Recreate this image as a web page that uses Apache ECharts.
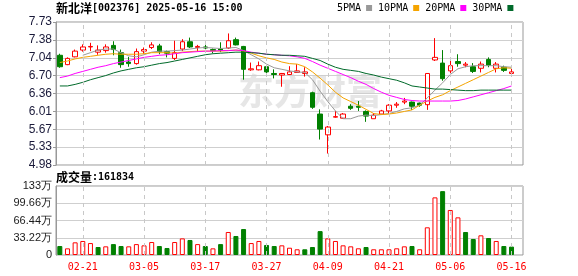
<!DOCTYPE html>
<html><head><meta charset="utf-8">
<script src="https://cdn.jsdelivr.net/npm/echarts@6/dist/echarts.min.js"></script>
<style>html,body{margin:0;padding:0;background:#fff}#c{width:578px;height:276px}</style>
</head><body><div id="c"></div>
<script>
const stockName = '新北洋';
const stockCode = '002376';
const stamp = '2025-05-16 15:00';
const dates = ['02-18','02-19','02-20','02-21','02-24','02-25','02-26','02-27','02-28','03-03',
 '03-04','03-05','03-06','03-07','03-10','03-11','03-12','03-13','03-14','03-17',
 '03-18','03-19','03-20','03-21','03-24','03-25','03-26','03-27','03-28','03-31',
 '04-01','04-02','04-03','04-07','04-08','04-09','04-10','04-11','04-14','04-15',
 '04-16','04-17','04-18','04-21','04-22','04-23','04-24','04-25','04-28','04-29',
 '04-30','05-06','05-07','05-08','05-09','05-12','05-13','05-14','05-15','05-16'];
const labelDates = ['02-21','03-05','03-17','03-27','04-09','04-21','05-06','05-16'];
const opens = [7.09,6.91,7.06,7.19,7.25,7.15,7.18,7.28,7.14,6.96,
 6.93,7.17,7.24,7.27,7.16,7.03,7.21,7.35,7.24,7.25,
 7.20,7.21,7.23,7.39,7.26,6.81,6.81,6.87,6.74,6.71,
 6.72,6.76,6.74,6.37,5.96,5.56,5.90,5.88,6.11,6.11,
 6.01,5.87,5.96,6.02,6.13,6.19,6.19,6.17,6.14,7.00,
 6.94,6.79,6.97,6.90,6.87,6.84,7.01,6.84,6.86,6.74];
const closes = [6.87,7.03,7.17,7.25,7.26,7.19,7.25,7.20,6.91,6.93,
 7.16,7.20,7.29,7.16,7.13,7.14,7.35,7.25,7.26,7.23,
 7.18,7.19,7.37,7.29,6.82,6.83,6.89,6.77,6.72,6.74,
 6.77,6.79,6.77,6.09,5.67,5.71,5.91,5.96,6.07,6.09,
 5.92,5.94,6.02,6.13,6.15,6.21,6.11,6.13,6.74,7.05,
 6.64,6.89,6.93,6.92,6.78,6.92,6.90,6.92,6.80,6.77];
const lows = [6.85,6.90,7.05,7.16,7.17,7.10,7.14,7.09,6.85,6.87,
 6.91,7.12,7.21,7.11,7.05,7.00,7.17,7.23,7.16,7.14,
 7.13,7.15,7.21,7.28,6.62,6.79,6.80,6.73,6.645,6.485,
 6.71,6.75,6.68,6.06,5.47,5.20,5.89,5.87,6.04,6.02,
 5.81,5.87,5.95,5.98,6.08,6.15,6.04,6.10,6.04,6.98,
 6.60,6.68,6.87,6.86,6.75,6.76,6.86,6.76,6.77,6.71];
const highs = [7.12,7.05,7.20,7.30,7.33,7.28,7.30,7.36,7.20,7.06,
 7.22,7.24,7.34,7.31,7.18,7.37,7.40,7.43,7.29,7.30,
 7.22,7.34,7.51,7.43,7.27,6.95,6.97,6.89,6.82,6.75,
 6.88,6.92,6.86,6.39,6.05,5.73,6.02,5.98,6.15,6.21,
 6.03,5.98,6.04,6.15,6.19,6.27,6.20,6.18,6.74,7.42,
 7.19,7.00,7.11,6.96,6.94,6.97,7.05,6.96,6.89,6.83];
const ma5 = ['-','-','-',7.09,7.14,7.19,7.21,7.21,7.14,7.08,
 7.06,7.10,7.15,7.17,7.17,7.18,7.19,7.21,7.23,7.24,
 7.23,7.22,7.23,7.24,7.18,7.10,7.02,6.92,6.85,6.82,
 6.79,6.77,6.76,6.62,6.40,6.20,6.02,5.87,5.87,5.92,
 5.94,5.93,5.95,5.97,6.01,6.06,6.08,6.13,6.27,6.42,
 6.56,6.72,6.83,6.87,6.89,6.89,6.89,6.89,6.87,6.86];
const ma10 = [6.95,6.98,7.02,7.05,7.07,7.09,7.11,7.12,7.11,7.11,
 7.11,7.12,7.14,7.14,7.14,7.13,7.15,7.16,7.17,7.17,
 7.17,7.17,7.18,7.19,7.17,7.13,7.08,7.04,7.01,6.96,
 6.93,6.92,6.87,6.77,6.65,6.52,6.38,6.27,6.20,6.13,
 6.05,5.97,5.95,5.96,5.98,6.01,6.04,6.13,6.21,6.28,
 6.33,6.41,6.48,6.55,6.62,6.69,6.76,6.83,6.85,6.84];
const ma20 = [6.66,6.69,6.74,6.78,6.82,6.86,6.89,6.93,6.96,6.99,
 7.02,7.05,7.07,7.09,7.10,7.12,7.14,7.15,7.16,7.17,
 7.17,7.18,7.18,7.19,7.18,7.15,7.13,7.11,7.10,7.09,
 7.08,7.06,7.03,6.97,6.90,6.84,6.78,6.72,6.66,6.59,
 6.53,6.45,6.38,6.32,6.28,6.24,6.22,6.21,6.21,6.21,
 6.21,6.21,6.22,6.25,6.29,6.33,6.37,6.41,6.45,6.50];
const ma30 = [6.50,6.50,6.53,6.57,6.62,6.66,6.70,6.75,6.79,6.82,
 6.85,6.87,6.90,6.93,6.95,6.98,7.01,7.04,7.07,7.10,
 7.12,7.13,7.14,7.15,7.15,7.14,7.13,7.11,7.10,7.09,
 7.09,7.08,7.07,7.03,6.99,6.92,6.86,6.82,6.80,6.78,
 6.74,6.71,6.67,6.64,6.61,6.56,6.50,6.48,6.46,6.44,
 6.44,6.43,6.42,6.41,6.41,6.42,6.42,6.42,6.42,6.42];
const volumes = [173000,128000,244000,270000,230000,154000,167000,210000,173000,167000,
 210000,186000,250000,173000,135000,250000,320000,289000,210000,173000,
 128000,210000,443000,366000,500000,230000,270000,193000,173000,186000,
 140000,110000,110000,154000,460000,320000,270000,186000,167000,129000,
 154000,110000,110000,110000,129000,167000,173000,110000,533000,1110000,
 1230000,867000,725000,443000,308000,379000,327000,270000,173000,161834];
const volUp = [0,1,1,1,1,0,1,0,0,1,
 1,1,1,0,0,1,1,0,1,0,
 1,0,1,0,0,1,1,0,0,1,
 1,1,0,0,0,1,1,1,1,1,
 0,1,1,1,1,1,0,1,1,1,
 0,1,1,0,0,1,0,1,0,0];
const priceTicks = ['4.98','5.33','5.67','6.01','6.36','6.70','7.04','7.38','7.73'];
const priceMin = 4.98, priceMax = 7.73;
const volTicks = ['0','33.22万','66.44万','99.66万','133万'];
const volMax = 1328800, volStep = 332200;

const RED = '#ff0000', GREEN = '#008000';
const cats = dates.concat(['']);
const kData = opens.map((o, i) => [o, closes[i], lows[i], highs[i]]);
const vData = volumes.map((v, i) => ({
  value: v,
  itemStyle: volUp[i] ? {color: '#fff', borderColor: RED, borderWidth: 1} : {color: GREEN, borderColor: GREEN, borderWidth: 1}
}));
const vlines = {
  silent: true, symbol: ['none', 'none'], label: {show: false}, animation: false,
  lineStyle: {color: '#c8c8c8', type: [4, 4], width: 1},
  emphasis: {disabled: true},
  data: labelDates.map(d => ({xAxis: d}))
};
const axisFont = {fontFamily: 'Liberation Sans', fontSize: 12, color: '#1a1a3a'};
const volFont = {fontFamily: 'Liberation Sans', fontSize: 11, color: '#1a1a1a'};
const chart = echarts.init(document.getElementById('c'), null, {renderer: 'canvas'});
chart.setOption({
  animation: false,
  backgroundColor: '#fff',
  title: [
    {left: 56, top: 2, padding: 0,
     text: '{a|' + stockName + '}{b|[' + stockCode + '] ' + stamp + '}',
     textStyle: {rich: {a: {fontFamily: 'Noto Sans CJK SC', fontSize: 12, color: '#000'},
                        b: {fontFamily: 'DejaVu Sans Mono', fontSize: 10, color: '#000'}}}},
    {left: 56, top: 171, padding: 0,
     text: '{a|成交量}{b|:' + volumes[volumes.length - 1] + '}',
     textStyle: {rich: {a: {fontFamily: 'Noto Sans CJK SC', fontSize: 12, color: '#000'},
                        b: {fontFamily: 'DejaVu Sans Mono', fontSize: 10, color: '#000'}}}}
  ],
  legend: {
    left: 337, top: 3, padding: 0, align: 'right', icon: 'rect', itemWidth: 6, itemHeight: 6, itemGap: 6,
    textStyle: {fontFamily: 'DejaVu Sans Mono', fontSize: 10, color: '#000'},
    data: ['5PMA', '10PMA', '20PMA', '30PMA']
  },
  graphic: [{type: 'text', left: 238, top: 73, z: 0, silent: true,
    style: {text: '东方财富', fontFamily: 'Noto Sans CJK SC', fontSize: 36, fontWeight: 'bold', fill: '#e6e6e6'}}],
  grid: [
    {left: 56, top: 22, width: 467, height: 143, show: true, borderColor: '#999', borderWidth: 1, backgroundColor: 'transparent'},
    {left: 56, top: 186, width: 467, height: 69, show: true, borderColor: '#999', borderWidth: 1, backgroundColor: 'transparent'}
  ],
  xAxis: [
    {type: 'category', gridIndex: 0, data: cats, boundaryGap: true,
     axisLine: {show: false}, axisTick: {show: false}, axisLabel: {show: false}, splitLine: {show: false}},
    {type: 'category', gridIndex: 1, data: cats, boundaryGap: true,
     axisLine: {show: false}, axisTick: {show: false}, splitLine: {show: false},
     axisLabel: {interval: (i, v) => labelDates.indexOf(v) >= 0, color: RED, fontFamily: 'DejaVu Sans Mono', fontSize: 10, margin: 7}}
  ],
  yAxis: [
    {type: 'value', gridIndex: 0, min: 0, max: 8, interval: 1, position: 'left',
     axisLine: {show: true, lineStyle: {color: '#999'}}, axisTick: {show: true, length: 3, lineStyle: {color: '#999'}},
     axisLabel: Object.assign({formatter: v => priceTicks[Math.round(v)], margin: 4}, axisFont),
     splitLine: {show: true, lineStyle: {color: '#cfcfcf', width: 1}}},
    {type: 'value', gridIndex: 0, min: priceMin, max: priceMax, position: 'right', show: false,
     splitLine: {show: false}},
    {type: 'value', gridIndex: 1, min: 0, max: volMax, interval: volStep, position: 'left',
     axisLine: {show: true, lineStyle: {color: '#999'}}, axisTick: {show: false},
     axisLabel: Object.assign({formatter: v => volTicks[Math.round(v / volStep)], margin: 4}, volFont),
     splitLine: {show: true, lineStyle: {color: '#cfcfcf', width: 1}}}
  ],
  series: [
    {type: 'candlestick', name: 'K', xAxisIndex: 0, yAxisIndex: 1, data: kData, barWidth: 5, z: 3,
     itemStyle: {color: '#fff', borderColor: RED, color0: GREEN, borderColor0: GREEN, borderWidth: 1},
     markLine: vlines},
    {type: 'line', name: '5PMA', xAxisIndex: 0, yAxisIndex: 1, data: ma5, symbol: 'none', z: 4,
     lineStyle: {color: '#999999', width: 1}, itemStyle: {color: '#999999'}},
    {type: 'line', name: '10PMA', xAxisIndex: 0, yAxisIndex: 1, data: ma10, symbol: 'none', z: 4,
     lineStyle: {color: '#f5a400', width: 1}, itemStyle: {color: '#f5a400'}},
    {type: 'line', name: '20PMA', xAxisIndex: 0, yAxisIndex: 1, data: ma20, symbol: 'none', z: 4,
     lineStyle: {color: '#ff00ff', width: 1}, itemStyle: {color: '#ff00ff'}},
    {type: 'line', name: '30PMA', xAxisIndex: 0, yAxisIndex: 1, data: ma30, symbol: 'none', z: 4,
     lineStyle: {color: '#006a2a', width: 1}, itemStyle: {color: '#006a2a'}},
    {type: 'bar', name: 'VOL', xAxisIndex: 1, yAxisIndex: 2, data: vData, barWidth: 5, markLine: vlines}
  ]
});
</script></body></html>
